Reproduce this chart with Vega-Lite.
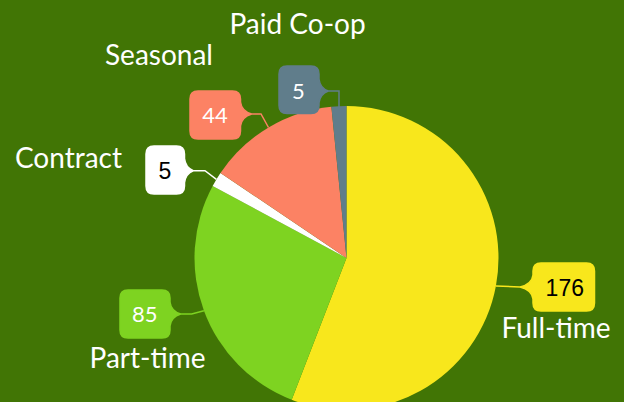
{
  "$schema": "https://vega.github.io/schema/vega-lite/v6.json",
  "width": 624,
  "height": 402,
  "autosize": {"type": "none"},
  "padding": 0,
  "background": "#417505",
  "config": {"view": {"stroke": null}},
  "data": {
    "values": [
      {"Type": "Full-time", "Count": 176},
      {"Type": "Part-time", "Count": 85},
      {"Type": "Contract", "Count": 5},
      {"Type": "Seasonal", "Count": 44},
      {"Type": "Paid Co-op", "Count": 5}
    ]
  },
  "transform": [{"window": [{"op": "row_number", "as": "idx"}]}],
  "layer": [
    {
      "mark": {"type": "arc", "x": 346.5, "y": 258, "outerRadius": 152},
      "encoding": {
        "theta": {"field": "Count", "type": "quantitative", "stack": true},
        "order": {"field": "idx", "type": "quantitative"},
        "color": {
          "field": "Type", "type": "nominal", "legend": null,
          "scale": {
            "domain": ["Full-time", "Part-time", "Contract", "Seasonal", "Paid Co-op"],
            "range": ["#F8E71C", "#7ED321", "#FFFFFF", "#FC8264", "#607D8B"]
          }
        }
      }
    },
    {
      "mark": {"type": "point", "filled": true, "x": 346.5, "y": 258, "size": 4, "opacity": 1, "strokeWidth": 1.5},
      "encoding": {
        "shape": {
          "field": "Type", "type": "nominal", "legend": null,
          "scale": {
            "domain": ["Full-time", "Part-time", "Contract", "Seasonal", "Paid Co-op"],
            "range": [
              "M194.5,5H240Q248,5 248,13V45Q248,53 240,53H194.5Q186.5,53 186.5,45V41Q185.5,32 173.5,29Q185.5,26 186.5,17V13Q186.5,5 194.5,5ZM173.5,29L149.4,27.9L173.5,29Z",
              "M-218.5,32H-184.5Q-176.5,32 -176.5,40V44Q-175.5,53 -165.8,56Q-175.5,59 -176.5,68V72Q-176.5,80 -184.5,80H-218.5Q-226.5,80 -226.5,72V40Q-226.5,32 -218.5,32ZM-165.8,56L-154.8,56L-142.6,52.7L-154.8,56Z",
              "M-192.5,-112H-170Q-162,-112 -162,-104V-99.3Q-161,-90.3 -153.2,-87.3Q-161,-84.3 -162,-75.3V-72Q-162,-64 -170,-64H-192.5Q-200.5,-64 -200.5,-72V-104Q-200.5,-112 -192.5,-112ZM-153.2,-87.3L-141.5,-87.3L-130.1,-78.7L-141.5,-87.3Z",
              "M-148.5,-167H-114Q-106,-167 -106,-159V-156Q-105,-147 -94.8,-144Q-105,-141 -106,-132V-127Q-106,-119 -114,-119H-148.5Q-156.5,-119 -156.5,-127V-159Q-156.5,-167 -148.5,-167ZM-94.8,-144L-85.5,-144L-78,-130.5L-85.5,-144Z",
              "M-59.5,-192H-35.5Q-27.5,-192 -27.5,-184V-179Q-26.5,-170 -18.2,-167Q-26.5,-164 -27.5,-155V-152.5Q-27.5,-144.5 -35.5,-144.5H-59.5Q-67.5,-144.5 -67.5,-152.5V-184Q-67.5,-192 -59.5,-192ZM-18.2,-167L-7.5,-167L-7.5,-151L-7.5,-167Z"
            ]
          }
        },
        "fill": {
          "field": "Type", "type": "nominal", "legend": null,
          "scale": {
            "domain": ["Full-time", "Part-time", "Contract", "Seasonal", "Paid Co-op"],
            "range": ["#F8E71C", "#7ED321", "#FFFFFF", "#FC8264", "#607D8B"]
          }
        },
        "stroke": {
          "field": "Type", "type": "nominal", "legend": null,
          "scale": {
            "domain": ["Full-time", "Part-time", "Contract", "Seasonal", "Paid Co-op"],
            "range": ["#F8E71C", "#7ED321", "#FFFFFF", "#FC8264", "#607D8B"]
          }
        }
      }
    },
    {
      "mark": {
        "type": "text", "x": 346.5, "y": 258, "radius": 200,
        "align": "center", "baseline": "alphabetic",
        "fontSize": {"expr": "indexof(['Full-time','Contract'], datum.Type) >= 0 ? 23 : 22"},
        "font": {"expr": "indexof(['Full-time','Contract'], datum.Type) >= 0 ? 'Liberation Sans' : 'Lato'"},
        "fill": {"expr": "indexof(['Full-time','Contract'], datum.Type) >= 0 ? '#000000' : '#FFFFFF'"},
        "dx": {"expr": "({'Full-time': 21.7, 'Part-time': -14.2, 'Contract': -10.4, 'Seasonal': -28.9, 'Paid Co-op': -38.1})[datum.Type]"},
        "dy": {"expr": "({'Full-time': 1.0, 'Part-time': -5.6, 'Contract': 24.8, 'Seasonal': 37.0, 'Paid Co-op': 41.0})[datum.Type]"}
      },
      "encoding": {
        "theta": {"field": "Count", "type": "quantitative", "stack": true},
        "order": {"field": "idx", "type": "quantitative"},
        "detail": {"field": "Type", "type": "nominal"},
        "text": {"field": "Count", "type": "quantitative"}
      }
    },
    {
      "mark": {
        "type": "text", "x": 346.5, "y": 258, "radius": 250,
        "fontSize": 28, "font": "Lato", "fill": "#FFFFFF", "align": "center", "baseline": "alphabetic",
        "dx": {"expr": "({'Full-time': -36.3, 'Part-time': 35.5, 'Contract': -64.1, 'Seasonal': -59.3, 'Paid Co-op': -36.5})[datum.Type]"},
        "dy": {"expr": "({'Full-time': 34.1, 'Part-time': 23.3, 'Contract': 39.7, 'Seasonal': 21.6, 'Paid Co-op': 25.7})[datum.Type]"}
      },
      "encoding": {
        "theta": {"field": "Count", "type": "quantitative", "stack": true},
        "order": {"field": "idx", "type": "quantitative"},
        "detail": {"field": "Type", "type": "nominal"},
        "text": {"field": "Type", "type": "nominal"}
      }
    }
  ]
}
